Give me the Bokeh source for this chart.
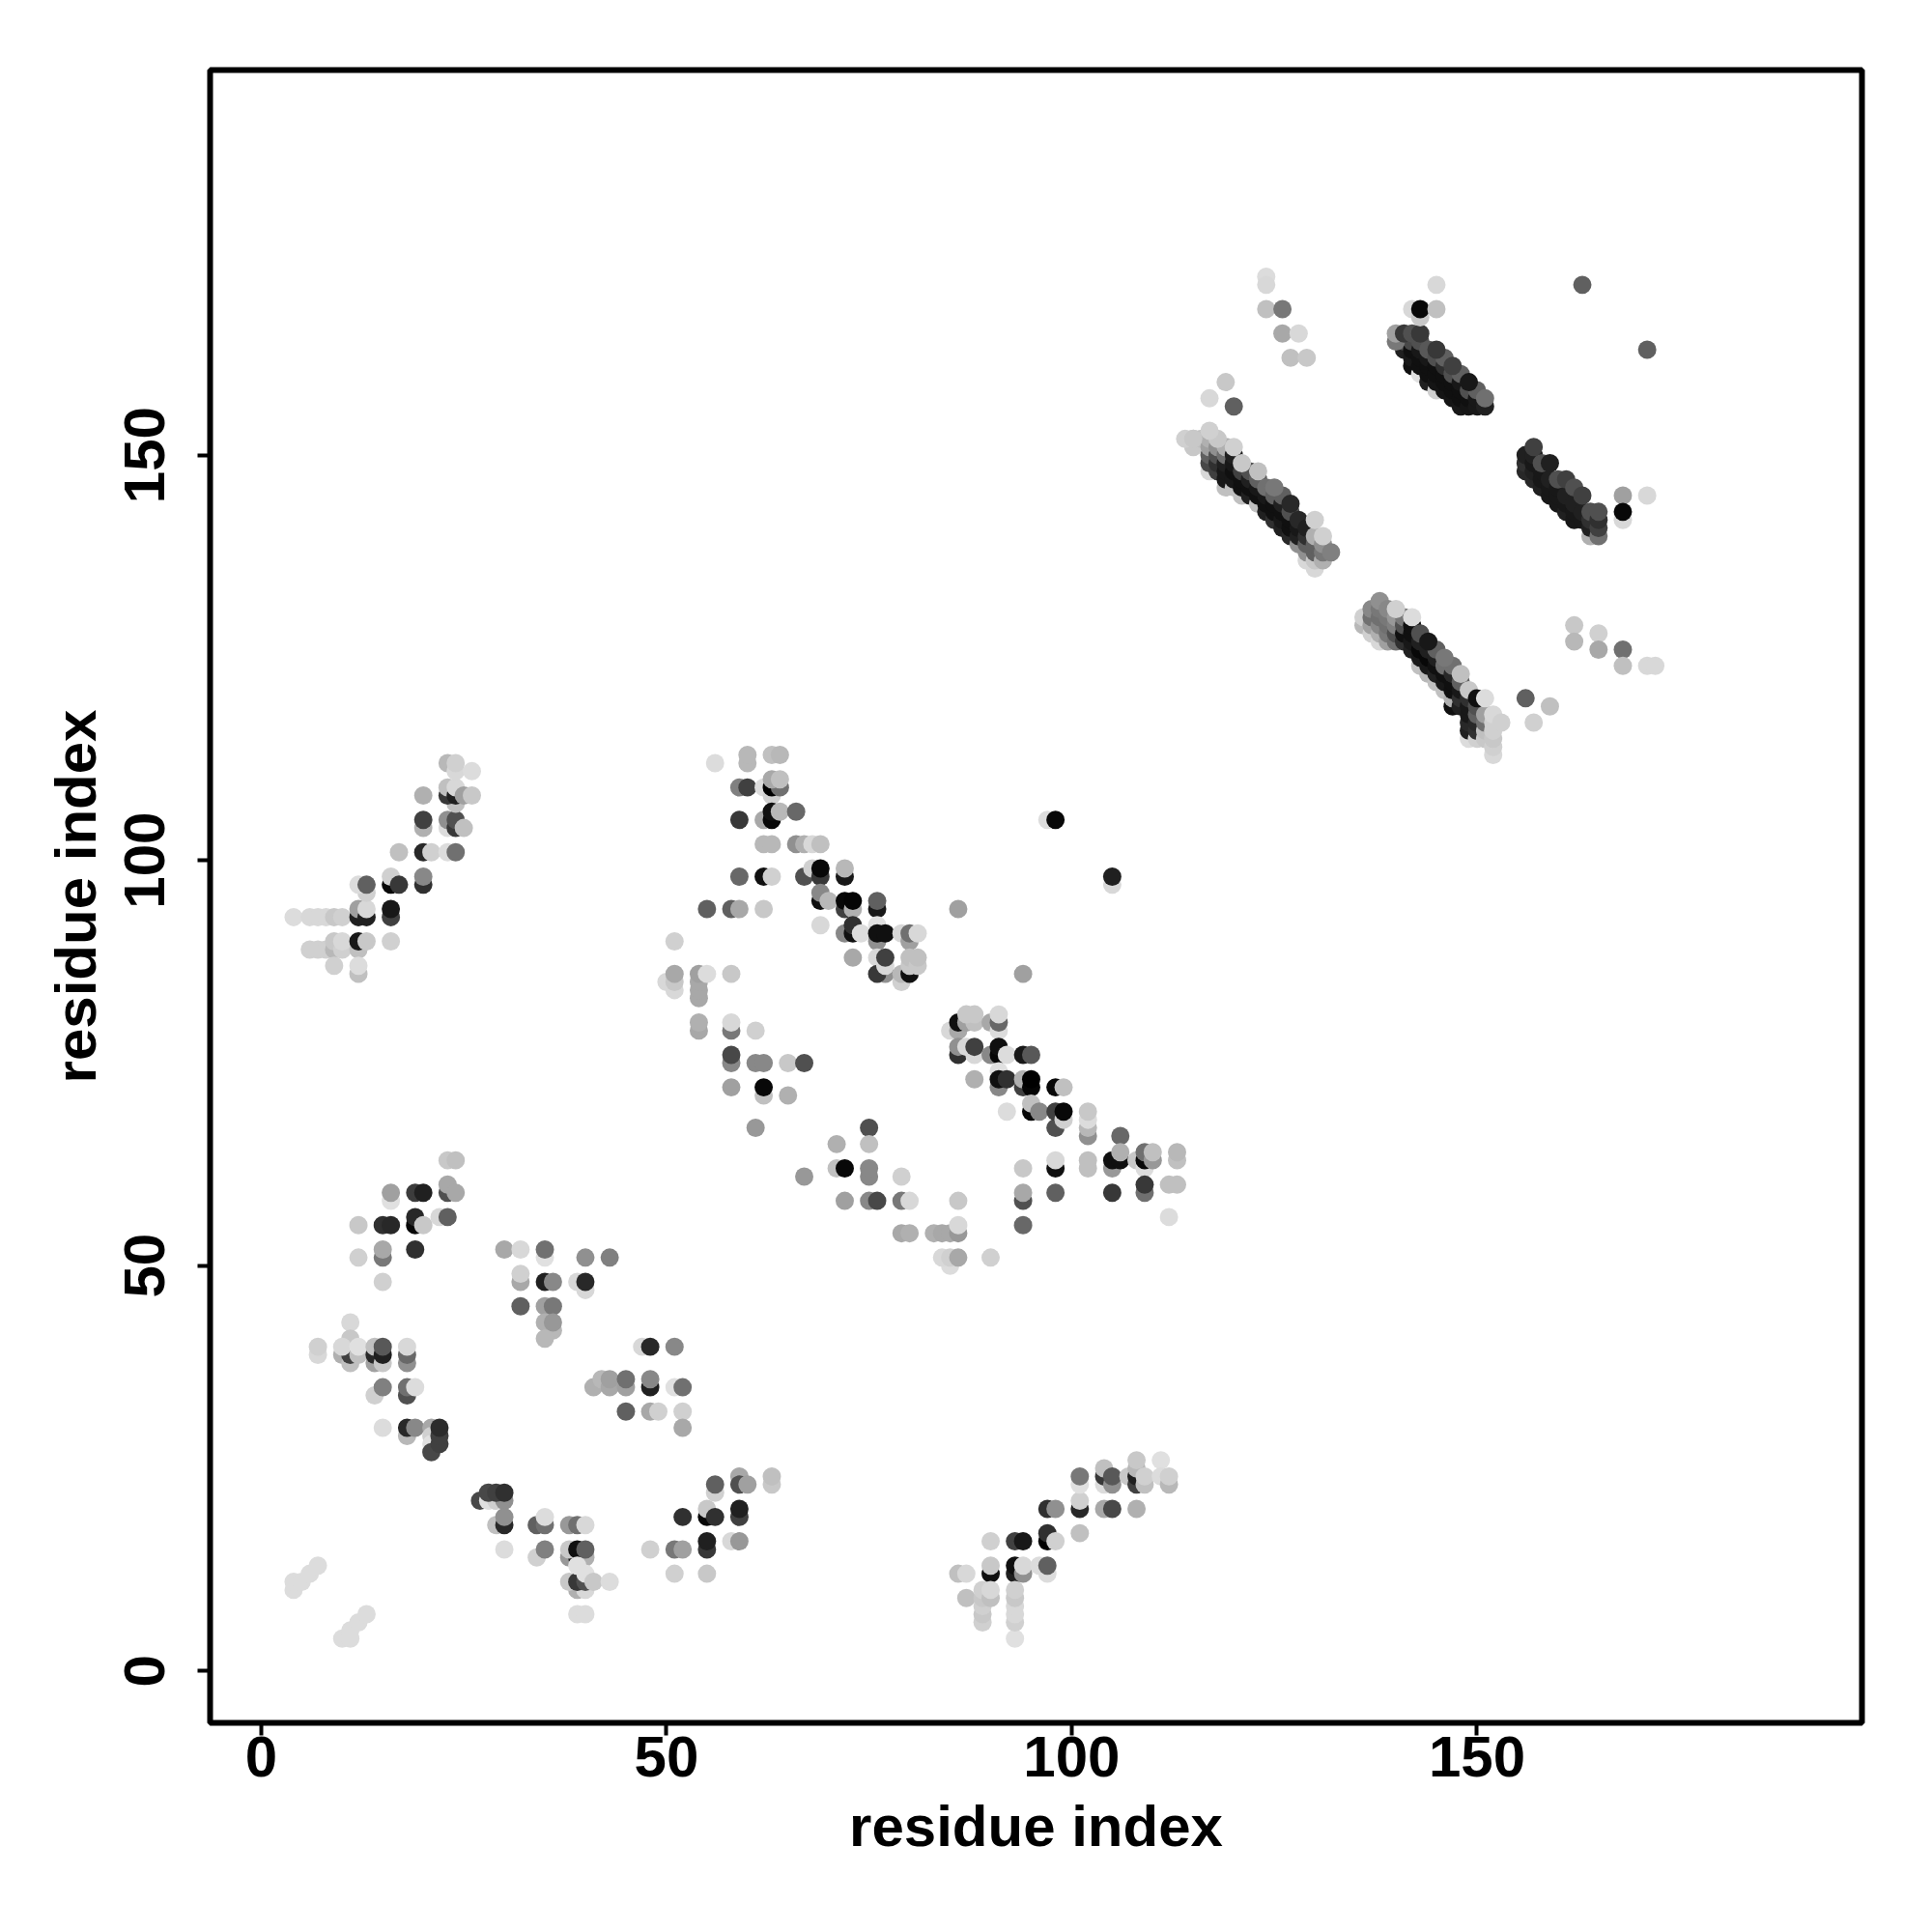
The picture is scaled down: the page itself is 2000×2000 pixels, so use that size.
from bokeh.plotting import figure
from bokeh.models import ColumnDataSource, FixedTicker, Range1d
from bokeh.embed import file_html
from bokeh.resources import INLINE

AXIS_TITLE = "residue index"
TICKS = [0, 50, 100, 150]

# each contact: (residue x, residue y, grey level of the dot)
cluster_low_left = [
 (4,10,0xdc),(4,11,0xdc),(5,11,0xdc),(6,12,0xdc),(7,13,0xdc),
 (10,4,0xdc),(11,4,0xdc),(11,5,0xdc),(12,6,0xdc),(13,7,0xdc)]
cluster_turn_a = [
 (23,63,0xc8),(24,63,0xc0),(16,58,0xe0),(16,59,0xa0),(19,59,0x3c),(20,59,0x20),
 (23,59,0x50),(23,60,0xa8),(24,59,0xa8),(12,55,0xc8),(15,55,0x30),(16,55,0x28),
 (19,55,0x08),(19,56,0x28),(20,55,0xc8),(22,56,0xd8),(23,56,0x60),
 (12,51,0xd0),(15,51,0x78),(15,52,0xa8),(19,52,0x30),(15,48,0xd0)]
cluster_turn_b = [
 (30,52,0xa8),(32,52,0xd8),(35,51,0xe0),(35,52,0x70),(40,51,0x90),(43,51,0x80),
 (32,48,0xa8),(32,49,0xd0),(35,48,0x20),(36,48,0x88),(39,48,0xd8),(40,47,0xd8),(40,48,0x28),
 (32,45,0x60),(35,45,0xa0),(36,45,0x78),(36,42,0xb8),(35,43,0xb0),(36,43,0x98),(35,41,0xb8)]
cluster_turn_c = [
 (7,39,0xd8),(7,40,0xd0),(11,43,0xd8),(10,39,0xb0),(11,38,0xc0),(11,39,0x40),(11,41,0xc8),(10,40,0xd8),
 (12,39,0xc0),(12,40,0xe0),(14,38,0xa0),(14,39,0x28),(14,40,0xc0),(15,38,0xc8),(15,39,0x20),(15,40,0x58),
 (18,38,0x90),(18,39,0x68),(18,40,0xd8),(14,34,0xd0),(15,35,0x80),(18,34,0x50),(18,35,0x70),(19,35,0xdc),
 (18,29,0xb8),(15,30,0xdc),(18,30,0x28),(19,30,0x88),(21,30,0xa8),(21,29,0xd0),(21,28,0xe0),(21,27,0x48),
 (22,28,0x40),(22,29,0x40),(22,30,0x2c)]
cluster_turn_d = [
 (41,35,0xb0),(42,36,0xb8),(43,35,0xa8),(43,36,0xa0),(45,35,0xa0),(45,36,0x70),(45,32,0x60),
 (47,40,0xd8),(48,40,0x28),(48,35,0x20),(48,36,0x88),(51,40,0x88),(51,35,0xe0),(52,35,0x70),
 (48,32,0xa8),(49,32,0xd0),(52,32,0xd0),(52,30,0xa8)]
cluster_turn_e = [
 (27,21,0x48),(28,21,0xe0),(29,21,0xd0),(30,21,0x90),(28,22,0x48),(29,22,0x40),(30,22,0x30),
 (29,18,0xc0),(30,18,0x28),(30,19,0x90),(30,15,0xdc),(34,18,0x60),(35,18,0x70),(35,19,0xdc),
 (38,18,0x98),(39,18,0x70),(40,18,0xd8),(34,14,0xd0),(35,15,0x80),
 (38,14,0x98),(39,14,0x18),(40,14,0xb0),(38,15,0xc8),(39,15,0x10),(40,15,0x60),
 (39,10,0xb0),(40,10,0xd8),(38,11,0xc8),(39,11,0x38),(40,11,0x50),(39,13,0xe0),(40,12,0xe0),(41,11,0xc8),(43,11,0xdc),
 (39,7,0xdc),(40,7,0xdc)]
cluster_turn_f = [
 (48,15,0xd0),(51,15,0x78),(52,15,0xa0),(55,15,0x38),(55,16,0x20),(58,16,0xd8),(59,16,0x98),
 (51,12,0xd0),(55,12,0xc8),(52,19,0x30),(55,19,0x08),(55,20,0xc8),(56,19,0x30),(59,19,0x40),(59,20,0x20),
 (56,22,0xd0),(56,23,0x60),(59,24,0xa8),(59,23,0x50),(60,23,0xa0),(63,23,0xc8),(63,24,0xc0)]
cluster_sheet_low = [
 (90,16,0xd0),(93,16,0x40),(94,16,0x18),(97,16,0x00),(97,17,0x30),(98,16,0xd0),
 (97,20,0x30),(98,20,0x90),(101,20,0x28),(101,21,0xd0),(101,17,0xc0),(101,23,0xe0),(101,24,0x78),
 (104,20,0xa8),(105,20,0x48),(108,20,0xb0),(104,23,0xdc),(104,24,0x38),(104,25,0xc0),(105,23,0x90),(105,24,0x58),
 (107,24,0xc8),(108,23,0x40),(108,24,0x20),(108,25,0xb8),(108,26,0xc8),(109,23,0xc0),(109,24,0xd0),
 (111,26,0xe0),(111,24,0xdc),(112,23,0xb8),(112,24,0xd0),
 (86,12,0xc0),(87,12,0xd8),(87,9,0xc0),(89,6,0xd0),(89,7,0xc8),(89,8,0xd0),(89,9,0xc8),(89,10,0xd0),
 (90,12,0x10),(90,13,0xc8),(90,9,0xc0),(90,10,0xd8),(93,12,0x20),(93,13,0x10),(94,12,0x90),(94,13,0xd8),
 (96,13,0xdc),(97,12,0xdc),(97,13,0x60),
 (93,4,0xe0),(93,6,0xd0),(93,7,0xd8),(93,8,0xd8),(93,9,0xc8),(93,10,0xd0)]
cluster_upper_left = [
 (4,93,0xdc),(6,93,0xd8),(7,93,0xd8),(8,93,0xd8),(9,93,0xc8),(10,93,0xd0),
 (6,89,0xd0),(7,89,0xd0),(8,89,0xd0),(9,89,0xb8),(9,90,0xc8),(10,89,0xd0),(10,90,0xd8),(9,87,0xd0),
 (12,93,0x20),(12,94,0xa0),(13,93,0x20),(13,94,0xd8),(12,89,0xc0),(12,90,0x18),(13,90,0xc8),(12,86,0xc0),(12,87,0xdc),
 (13,96,0xd0),(12,97,0xdc),(13,97,0x60),(16,97,0x08),(16,98,0xd0),(17,97,0x38),
 (16,93,0x40),(16,94,0x18),(16,90,0xd0),(17,101,0xc0),(20,101,0x28),(21,101,0xd0),(23,101,0xdc),(24,101,0x70),
 (20,97,0x30),(20,98,0x88),(20,104,0xb0),(20,105,0x40),(20,108,0xb0),
 (23,104,0xdc),(23,105,0x90),(24,104,0x38),(24,105,0x50),(25,104,0xc0),
 (24,107,0xc0),(23,108,0x38),(23,109,0xc0),(24,108,0x20),(24,109,0xd8),(25,108,0xa0),(26,108,0xc8),
 (23,112,0xb8),(24,111,0xd8),(24,112,0xd0),(26,111,0xdc)]
cluster_mid_upper = [
 (56,112,0xdc),(60,112,0xb8),(60,113,0xb8),(63,113,0xc0),(64,113,0xb8),
 (59,109,0x80),(60,109,0x40),(62,109,0xdc),(63,108,0xd0),(63,109,0x00),(64,109,0x70),(63,110,0xa8),(64,110,0xc0),
 (59,105,0x38),(62,105,0xa8),(63,105,0x08),(63,106,0x10),(64,106,0xb8),(66,106,0x68),
 (62,102,0xb8),(63,102,0xb8),(66,102,0x90),(67,102,0xb0),(68,102,0xd8),(69,102,0xc0),
 (59,98,0x68),(62,98,0x10),(63,98,0xd0),(67,98,0x50),(68,99,0xd0),(69,98,0x38),(69,99,0x08),(72,98,0x18),(72,99,0xb8),
 (69,95,0x10),(69,96,0x88),(70,95,0xb8),(72,94,0x40),(72,95,0x08),(73,94,0xb0),(73,95,0x05),(76,94,0x18),(76,95,0x60),
 (55,94,0x60),(58,94,0x60),(59,94,0xa8),(62,94,0xc8),(86,94,0xa0),
 (69,92,0xd8),(72,91,0x88),(73,91,0x10),(73,92,0x30),(74,91,0xdc),(76,90,0x90),(76,92,0xe0),(76,91,0x10),(77,91,0x10),
 (79,91,0xd8),(80,90,0xa0),(80,91,0x70),(81,91,0xd8),
 (73,88,0xa8),(76,88,0xd8),(77,86,0x90),(76,86,0x38),(77,87,0xd8),(77,88,0x40),(79,85,0xd0),(79,86,0xb8),
 (80,86,0x10),(80,87,0xc8),(80,88,0xc0),(81,87,0xc8),(81,88,0xc0),
 (51,90,0xd0),(50,85,0xd8),(51,84,0xd8),(51,85,0xc8),(51,86,0xa8),(54,83,0xa8),(54,84,0xa8),(54,85,0xa8),(54,86,0xa0),(55,86,0xdc),(58,86,0xc8)]
cluster_mid_low = [
 (54,79,0xa8),(54,80,0xb0),(58,79,0x78),(58,80,0xd8),(61,79,0xd0),(58,75,0x88),(58,76,0x48),
 (61,75,0x88),(62,75,0x88),(65,75,0xc8),(67,75,0x50),(58,72,0xa0),(62,71,0xc0),(62,72,0x08),(65,71,0xb0),
 (61,67,0x98),(75,67,0x50),(71,65,0xb0),(75,65,0xc0),(71,62,0xc0),(72,62,0x08),(75,61,0x88),(75,62,0x88),(67,61,0x98),(79,61,0xd0),
 (72,58,0xa0),(75,58,0x88),(76,58,0x48),(79,58,0x78),(80,58,0xd8),(86,58,0xc8),
 (79,54,0xa8),(80,54,0xb0),(83,54,0xb0),(84,54,0xa8),(85,54,0xa8),(86,54,0x98),(86,55,0xd8),
 (85,50,0xdc),(84,51,0xd8),(85,51,0xd0),(86,51,0xa8),(90,51,0xd0)]
cluster_mid_right = [
 (94,86,0xa0),(85,79,0xd8),(86,79,0xa8),(86,80,0x10),(87,80,0xa0),(88,80,0xc0),(87,81,0xc8),(88,81,0xc8),
 (90,80,0xa8),(91,79,0xdc),(91,80,0x68),(91,81,0xd8),
 (86,76,0x30),(86,77,0x90),(88,76,0xd8),(87,77,0xd8),(88,77,0x40),(90,76,0x88),(91,76,0x08),(91,77,0x10),(92,76,0xdc),(94,76,0x18),(95,76,0x58),
 (88,73,0xb0),(91,72,0x88),(91,74,0xe0),(91,73,0x10),(92,73,0x30),(94,72,0x40),(94,73,0xb0),(95,72,0x05),(95,73,0x00),(98,72,0x08),(99,72,0xc0),
 (92,69,0xdc),(95,69,0x08),(95,70,0xc0),(96,69,0x88),(98,67,0x50),(98,69,0x40),(99,68,0xd0),(99,69,0x08),
 (102,66,0x90),(102,67,0xb8),(102,68,0xdc),(102,69,0xc8),(106,66,0x68),
 (94,62,0xc8),(98,62,0x10),(98,63,0xd8),(102,62,0xc0),(102,63,0xc0),(105,62,0x98),(105,63,0x10),(106,63,0x10),(106,64,0xb0),
 (108,63,0xc8),(109,62,0xdc),(109,63,0x08),(109,64,0x70),(110,63,0x98),(110,64,0xc0),(113,63,0xc0),(113,64,0xb8),
 (94,58,0x50),(94,59,0xa8),(94,55,0x68),(98,59,0x60),(105,59,0x38),(109,59,0x70),(109,60,0x38),(112,60,0xc0),(113,60,0xc0),(112,56,0xdc)]
band_a = [
 (115,151,0xc8),(115,152,0xc8),(116,152,0xc0),(117,148,0xd8),(117,149,0x48),(117,150,0x60),(117,151,0xa0),(117,152,0xb0),
 (118,148,0x40),(118,149,0x30),(118,150,0x50),(118,151,0x90),(119,146,0xc0),(119,147,0x18),(119,148,0x18),(119,149,0x20),(119,150,0x70),(119,151,0xb0),
 (120,146,0xc0),(120,147,0x18),(120,148,0x10),(120,149,0x18),(120,150,0x20),(121,145,0xc0),(121,146,0x10),(121,147,0x10),(121,148,0x40),
 (122,145,0x20),(122,146,0x10),(122,147,0x20),(122,148,0x50),(123,144,0xc0),(123,145,0x10),(123,146,0x18),(123,147,0x60),
 (124,143,0x20),(124,144,0x10),(124,145,0x18),(124,146,0x70),(125,142,0x30),(125,143,0x10),(125,144,0x10),(125,145,0x60),
 (126,141,0x20),(126,142,0x18),(126,143,0x10),(126,144,0x20),(126,145,0x60),(127,140,0x28),(127,141,0x10),(127,142,0x10),(127,143,0x50),
 (128,139,0x90),(128,140,0x20),(128,141,0x18),(128,142,0x28),(129,137,0xd8),(129,138,0x90),(129,139,0x60),(129,140,0x30),(129,141,0x20),
 (130,136,0xd8),(130,137,0xc8),(130,138,0x60),(130,139,0x60),(130,140,0xb0),(131,137,0xb0),(131,138,0x78),(131,139,0x90),(132,138,0x80)]
band_a_top = [(125,146,0x78),(123,148,0xc0),(121,149,0xc8),(120,151,0xd0),(127,144,0x28),(130,142,0xd0),(131,140,0xd0),
 (118,152,0xc8),(117,153,0xd0),(114,152,0xd0),(115,152,0xc8)]
band_b = [
 (136,129,0xb8),(136,130,0xd0),(137,128,0xd0),(137,129,0xa0),(137,130,0x70),(137,131,0x88),(138,127,0xd8),(138,128,0xb0),(138,129,0x88),(138,130,0x70),(138,131,0x78),(138,132,0x90),
 (139,127,0xa0),(139,128,0x78),(139,129,0x70),(139,130,0x78),(139,131,0x88),(140,127,0x70),(140,128,0x50),(140,129,0x80),(140,130,0x98),
 (141,127,0x30),(141,128,0x10),(141,129,0x50),(141,130,0x78),(142,126,0x20),(142,127,0x18),(142,128,0x10),(142,129,0x10),
 (143,124,0xc0),(143,125,0x18),(143,126,0x08),(143,127,0x20),(143,128,0x50),(144,123,0xb8),(144,124,0x18),(144,125,0x08),(144,126,0x20),
 (145,122,0xc0),(145,123,0x20),(145,124,0x10),(145,125,0x20),(145,126,0x60),(146,121,0xc0),(146,122,0x18),(146,123,0x10),(146,124,0x70),
 (147,119,0x10),(147,120,0xb0),(147,121,0x10),(147,122,0x10),(147,123,0x28),(147,124,0x70),(148,119,0x20),(148,120,0x30),(148,121,0x18),(148,122,0x60),
 (149,115,0xdc),(149,116,0x20),(149,117,0x28),(149,118,0x18),(149,119,0x18),(149,120,0x30),
 (150,115,0xd0),(150,116,0x30),(150,117,0x28),(150,118,0x60),(150,119,0x50),
 (151,115,0xc8),(151,116,0xc0),(151,117,0x70),(151,118,0xa0),(152,113,0xd8),(152,114,0xd0),(152,115,0xc8),(152,116,0xd0),(152,117,0xd0)]
band_b_top = [(144,127,0x18),(146,125,0x78),(148,123,0xc0),(149,121,0xc8),(150,120,0x10),(151,120,0xdc),
 (140,131,0xd0),(142,130,0xdc),(152,118,0xd8),(153,117,0xd0)]
band_c = [
 (141,163,0x20),(141,164,0x50),(142,161,0x10),(142,162,0x18),(142,163,0x10),(142,164,0x48),
 (143,160,0xe0),(143,161,0x10),(143,162,0x10),(143,163,0x18),(143,164,0x50),(144,159,0x20),(144,160,0x10),(144,161,0x10),(144,162,0x18),(144,163,0x58),
 (145,158,0xd0),(145,159,0x15),(145,160,0x10),(145,161,0x10),(145,162,0x50),(146,158,0x15),(146,159,0x10),(146,160,0x10),(146,161,0x30),(146,162,0x60),
 (147,157,0x15),(147,158,0x10),(147,159,0x10),(147,160,0x50),(148,156,0x18),(148,157,0x10),(148,158,0x10),(148,159,0x18),(148,160,0x60),
 (149,156,0x15),(149,157,0x10),(149,158,0x50),(150,156,0x18),(150,157,0x18),(150,158,0x60),(151,156,0x20)]
band_c_top = [(145,163,0x38),(147,161,0x40),(149,159,0x18),(151,157,0x70),
 (140,164,0x78),(140,165,0xa0),(141,165,0x38),(142,165,0x50),(143,165,0x38)]
band_d = [
 (156,148,0x28),(156,149,0x30),(156,150,0x20),(157,147,0x28),(157,148,0x20),(157,149,0x18),(157,150,0x20),(157,151,0x40),
 (158,146,0x20),(158,147,0x18),(158,148,0x18),(158,149,0x50),(159,145,0x18),(159,146,0x18),(159,147,0x20),(159,149,0x20),
 (160,144,0x18),(160,145,0x18),(160,146,0x18),(160,147,0x50),(161,143,0x20),(161,144,0x18),(161,145,0x20),(161,147,0x40),
 (162,142,0x18),(162,143,0x18),(162,144,0x20),(162,146,0x50),(163,142,0x18),(163,143,0x20),(163,145,0x40),
 (164,140,0xb0),(164,141,0x20),(164,142,0x30),(164,143,0x50),(165,140,0x70),(165,141,0x40),(165,142,0x30),(165,143,0x50)]
isolated = [
 (124,172,0xdc),(124,171,0xd8),(124,168,0xc0),(126,168,0x78),(126,165,0xa8),(128,165,0xd8),(127,162,0xc0),(129,162,0xc8),
 (119,159,0xc8),(117,157,0xd8),(120,156,0x60),(145,171,0xd8),(142,168,0xd8),(143,167,0xc8),(143,168,0x08),(145,168,0xc0),
 (156,120,0x60),(159,119,0xc0),(157,117,0xd0),(162,129,0xc8),(162,127,0xb8),(165,128,0xd0),(165,126,0xa8),(168,126,0x70),(168,124,0xc0),
 (171,124,0xd8),(172,124,0xd8),(168,145,0xa0),(168,142,0xd8),(168,143,0x08),(171,145,0xd8),
 (163,171,0x60),(171,163,0x60),(97,105,0xdc),(98,105,0x08),(105,97,0xd8),(105,98,0x20)]

contacts = (cluster_low_left + cluster_turn_a + cluster_turn_b + cluster_turn_c + cluster_turn_d
            + cluster_turn_e + cluster_turn_f + cluster_sheet_low + cluster_upper_left
            + cluster_mid_upper + cluster_mid_low + cluster_mid_right
            + band_a + band_a_top + band_b + band_b_top + band_c + band_c_top + band_d + isolated)

source = ColumnDataSource(dict(
    x=[c[0] for c in contacts],
    y=[c[1] for c in contacts],
    color=["#%02x%02x%02x" % (c[2], c[2], c[2]) for c in contacts],
))

p = figure(width=1984, height=1984, output_backend="svg", toolbar_location=None,
           x_range=Range1d(-6.3, 197.5), y_range=Range1d(-6.4, 197.5),
           min_border_left=217, min_border_right=57, min_border_top=72, min_border_bottom=201)
p.circle("x", "y", source=source, radius=1.13, fill_color="color", line_color=None)

p.grid.visible = False
p.outline_line_color = "black"
p.outline_line_width = 6
p.background_fill_color = "white"

for ax in (p.xaxis[0], p.yaxis[0]):
    ax.ticker = FixedTicker(ticks=TICKS)
    ax.axis_label = AXIS_TITLE
    ax.axis_line_color = None
    ax.major_tick_line_color = "black"
    ax.major_tick_line_width = 4
    ax.major_tick_in = 0
    ax.major_tick_out = 13
    ax.minor_tick_line_color = None
    ax.major_label_text_font = "Liberation Sans"
    ax.major_label_text_font_style = "bold"
    ax.major_label_text_font_size = "60px"
    ax.major_label_text_color = "black"
    ax.axis_label_text_font = "Liberation Sans"
    ax.axis_label_text_font_style = "bold"
    ax.axis_label_text_font_size = "60px"
    ax.axis_label_text_color = "black"
p.xaxis[0].major_label_standoff = 1
p.xaxis[0].axis_label_standoff = 15
p.yaxis[0].major_label_orientation = "vertical"
p.yaxis[0].major_label_standoff = 34
p.yaxis[0].axis_label_standoff = 15

open("out.html", "w").write(file_html(p, INLINE))
